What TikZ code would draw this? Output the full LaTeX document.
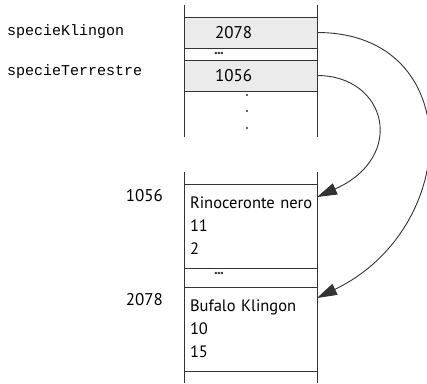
\documentclass[tikz,border=0pt]{standalone}
\usepackage{fontspec}
\setsansfont{PT Sans}
\setmonofont{Liberation Mono}
\usetikzlibrary{arrows.meta}
\definecolor{cellgray}{HTML}{EBEBEB}
\definecolor{ink}{HTML}{333333}
\newcommand{\tightdots}{.\kern-0.6pt.\kern-0.6pt.}

\begin{document}
\begin{tikzpicture}[x=1pt,y=-1pt,
  every node/.style={inner sep=0pt, outer sep=0pt},
  col/.style={draw=ink, line width=0.9pt},
  cell/.style={draw=ink, line width=0.9pt, minimum width=133pt, anchor=north west,
    font=\sffamily\fontsize{17}{23}\selectfont, align=left},
  refcell/.style={cell, fill=cellgray, minimum height=31pt, inner xsep=31pt, text width=71pt},
  rec/.style={cell, font=\sffamily\fontsize{16.5}{23}\selectfont, minimum height=84pt,
    inner xsep=6pt, text width=121pt},
  gap/.style={cell},
  gapdots/.style={font=\sffamily\bfseries\fontsize{15}{15}\selectfont, anchor=west, text=ink},
  varname/.style={font=\ttfamily\fontsize{15}{15}\selectfont, anchor=west},
  addr/.style={font=\sffamily\fontsize{17}{17}\selectfont, anchor=east},
  ptr/.style={draw=ink, line width=0.9pt, -{Triangle[length=20pt,width=12pt]}},
]
\useasboundingbox (0,0) rectangle (427,383);

% upper column: the two reference variables
\draw[col] (184,5) -- (184,137);
\draw[col] (317,5) -- (317,137);
\node[refcell] (k) at (184,17) {2078};
\node[gap, minimum height=12pt] (g1) at (184,48) {};
\node[refcell] (b) at (184,60) {1056};
\node[gapdots] (d1) at (214,53.5) {\tightdots};
\foreach \yy in {95,111,128} \fill[ink] (247,\yy) circle (1.2pt);

\node[varname] (nk) at (7,32) {specieKlingon};
\node[varname] (nt) at (7,72) {specieTerrestre};

% lower column: the two objects
\draw[col] (184,172) -- (184,383);
\draw[col] (317,172) -- (317,383);
\node[rec] (r1) at (184,184) {\mbox{Rinoceronte nero}\\11\\2};
\node[gap, minimum height=19pt] (g2) at (184,268) {};
\node[gapdots] (d2) at (214,273.5) {\tightdots};
\node[rec] (r2) at (184,287) {\mbox{Bufalo Klingon}\\10\\15};
\draw[col] (184,371) -- (317,371);

\node[addr] (a1) at (163,196) {1056};
\node[addr] (a2) at (163,300) {2078};

% references
\draw[ptr] (k.east) .. controls +(150,0) and +(145,-70) .. ([yshift=-11pt]r2.north east);
\draw[ptr] (b.east) .. controls +(70,0) and +(90,-40) .. ([yshift=-13pt]r1.north east);
\end{tikzpicture}
\end{document}
